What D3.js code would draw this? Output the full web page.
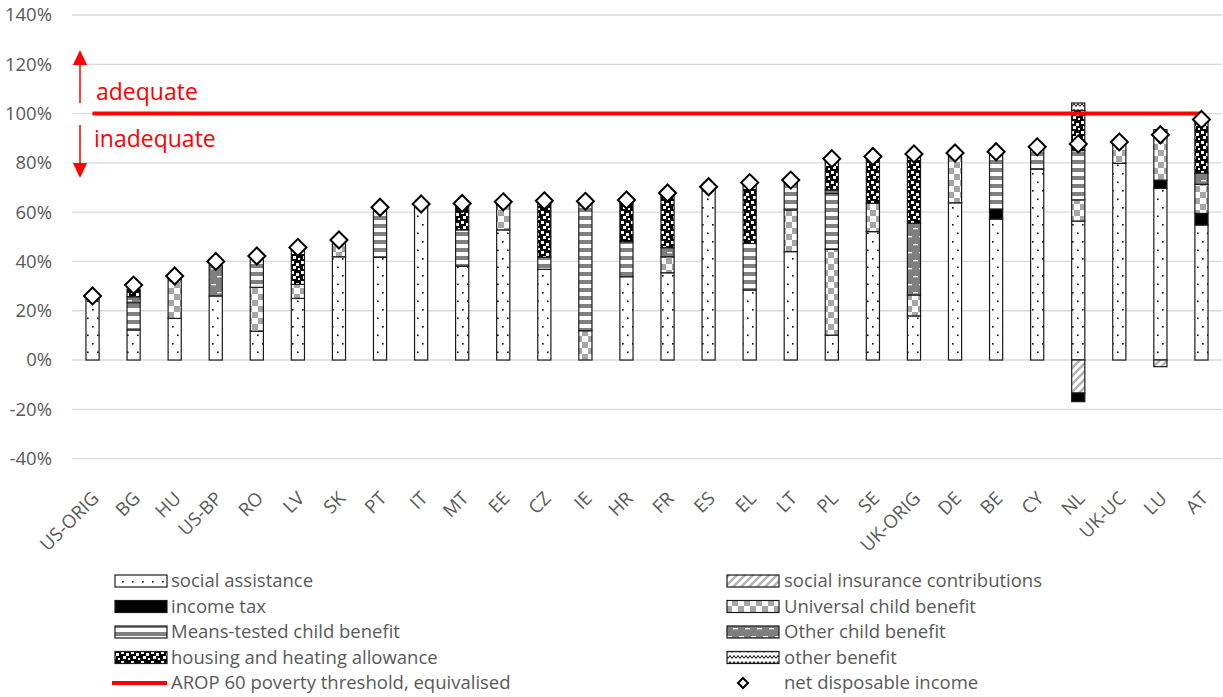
<!DOCTYPE html>
<html><head><meta charset="utf-8">
<script src="https://cdn.jsdelivr.net/npm/d3@7"></script>
<style>body{margin:0;background:#fff} text{font-family:"Open Sans",Lato,sans-serif}</style>
</head><body><svg id="c" width="1223" height="697"></svg>
<script>
const categories = ["US-ORIG","BG","HU","US-BP","RO","LV","SK","PT","IT","MT","EE","CZ","IE","HR","FR","ES","EL","LT","PL","SE","UK-ORIG","DE","BE","CY","NL","UK-UC","LU","AT"];
const socialAssistance = [25.5,12.2,16.9,26,11.7,25,41.9,41.7,62.3,38.1,52.8,36.8,0,33.8,35.4,69.5,28.4,44,10.1,52.1,17.9,63.8,57.2,77.5,56.4,79.8,69.7,54.8];
const socialInsurance  = [0,0,0,0,0,0,0,0,0,0,0,0,0,0,0,0,0,0,0,0,0,0,0,0,-13.4,0,-2.7,0];
const incomeTax        = [0,0,0,0,0,0,0,0,0,0,0,0,0,0,0,0,0,0,0,0,0,0,3.9,0,-3.5,0,3.3,4.7];
const universalChild   = [0,0,16,0,17.8,5.7,5.3,0,0,0,10.3,0,11.9,0,6.5,0,0,16.9,34.8,11.5,8.5,19.2,0,0,8.6,7.8,20.5,11.8];
const meansTestedChild = [0,11,0,0,11.5,0,0,19,0,14.7,0,4.9,51.6,14.2,0,0,18.9,11,22.7,0,0,0,22.3,8.2,20,0,0,0];
const otherChild       = [0,2.5,0,12.5,0,0,0,0,0,0,0,0,0,0,3.7,0,0,0,1.4,0,29.1,0,0,0,0,0,0,4.5];
const housingHeating   = [0,3,0,0,0,13.8,0,0,0,9.5,0,21.8,0,15.8,21,0,23.5,0,11.5,17.8,27,0,0,0,16.3,0,0,21.5];
const otherBenefit     = [0,0,0,0,0,0,0,0,0,0,0,0,0,0,0,0,0,0,0,0,0,0,0,0,3,0,0,0];
const netDisposable    = [26,30.4,34.1,40,42.2,45.7,48.7,62,63.3,63.5,64.2,64.6,64.4,64.9,67.8,70.3,72,73,81.7,82.6,83.6,84,84.5,86.5,87.7,88.5,91.4,97.6];
const povertyThreshold = 100;
const yTicks = [-40,-20,0,20,40,60,80,100,120,140];
const seriesNames = ["social assistance","social insurance contributions","income tax","Universal child benefit","Means-tested child benefit","Other child benefit","housing and heating allowance","other benefit"];

const seriesData = [socialAssistance, socialInsurance, incomeTax, universalChild, meansTestedChild, otherChild, housingHeating, otherBenefit];
const keys = ["sa","sic","tax","ucb","mtcb","ocb","hha","ob"];
const rows = categories.map((c,i)=>{const r={cat:c}; keys.forEach((k,j)=>r[k]=seriesData[j][i]); return r;});

const FONT = '"Open Sans",Lato,sans-serif';
const svg = d3.select("#c");
const defs = svg.append("defs");
function pat(id,w,h,draw){const p=defs.append("pattern").attr("id",id).attr("patternUnits","userSpaceOnUse").attr("width",w).attr("height",h); draw(p); return p;}
pat("p-sa",10,17,p=>{p.append("rect").attr("width",10).attr("height",17).attr("fill","#fff");
  p.append("rect").attr("x",2).attr("y",3).attr("width",1.6).attr("height",1.6).attr("fill","#000");
  p.append("rect").attr("x",7).attr("y",11.5).attr("width",1.6).attr("height",1.6).attr("fill","#000");});
pat("p-sic",8,8,p=>{p.append("rect").attr("width",8).attr("height",8).attr("fill","#fff");
  p.append("path").attr("d","M-2,10 L10,-2 M-2,2 L2,-2 M6,10 L10,6").attr("stroke","#b4b4b4").attr("stroke-width",2.6);});
pat("p-tax",4,4,p=>{p.append("rect").attr("width",4).attr("height",4).attr("fill","#000");});
pat("p-ucb",12,12,p=>{p.append("rect").attr("width",12).attr("height",12).attr("fill","#fff");
  p.append("rect").attr("width",6).attr("height",6).attr("fill","#a6a6a6");
  p.append("rect").attr("x",6).attr("y",6).attr("width",6).attr("height",6).attr("fill","#a6a6a6");});
pat("p-mtcb",8,8,p=>{p.append("rect").attr("width",8).attr("height",8).attr("fill","#fff");
  p.append("rect").attr("width",8).attr("height",4).attr("fill","#808080");});
pat("p-ocb",12,16,p=>{p.append("rect").attr("width",12).attr("height",16).attr("fill","#7f7f7f");
  p.append("rect").attr("x",1).attr("y",4).attr("width",5).attr("height",1.3).attr("fill","#fff");
  p.append("rect").attr("x",7).attr("y",12).attr("width",5).attr("height",1.3).attr("fill","#fff");});
pat("p-hha",10,10,p=>{p.append("rect").attr("width",10).attr("height",10).attr("fill","#000");
  [[1,1],[6,3],[3,6],[8,8]].forEach(([x,y])=>p.append("rect").attr("x",x).attr("y",y).attr("width",3).attr("height",3).attr("fill","#fff"));});
pat("p-ob",8,6,p=>{p.append("rect").attr("width",8).attr("height",6).attr("fill","#fff");
  p.append("path").attr("d","M0,4.5 L2,1.5 L4,4.5 L6,1.5 L8,4.5").attr("fill","none").attr("stroke","#000").attr("stroke-width",1);});

const plotL = 72, plotR = 1222;
const x = d3.scaleBand().domain(categories).range([plotL, plotR]).paddingInner(0.68).paddingOuter(0.34);
const y = d3.scaleLinear().domain([-40,140]).range([458.6,15]);

// gridlines
svg.append("g").selectAll("line").data(yTicks).join("line")
  .attr("x1",plotL).attr("x2",plotR).attr("y1",d=>y(d)).attr("y2",d=>y(d))
  .attr("stroke","#d9d9d9").attr("stroke-width",1.3);
// y labels
const yAxis = d3.axisLeft(y).tickValues(yTicks).tickFormat(d=>d+"%").tickSize(0).tickPadding(0);
const ya = svg.append("g").attr("transform","translate(52,0)").call(yAxis);
ya.select(".domain").remove();
ya.selectAll("text").attr("fill","#595959").style("font-size","18.5px").style("font-family",FONT);

// x labels
const xAxis = d3.axisBottom(x).tickSize(0);
const xa = svg.append("g").attr("transform","translate(0,490)").call(xAxis);
xa.select(".domain").remove();
xa.selectAll("text").attr("fill","#595959").style("font-size","18.5px").style("font-family",FONT)
  .attr("text-anchor","end").attr("dy","0.35em").attr("y",0)
  .attr("transform","translate(3,5) rotate(-45)");

// stacked bars
const stack = d3.stack().keys(keys).offset(d3.stackOffsetDiverging)(rows);
const bw = x.bandwidth();
stack.forEach((s,si)=>{
  svg.append("g").selectAll("rect").data(s.filter(d=>d[1]!==d[0])).join("rect")
    .attr("x",d=>x(d.data.cat)).attr("width",bw)
    .attr("y",d=>y(Math.max(d[0],d[1]))).attr("height",d=>Math.abs(y(d[0])-y(d[1])))
    .attr("fill",`url(#p-${keys[si]})`).attr("stroke","#1a1a1a").attr("stroke-width",1.2);
});

// threshold line
svg.append("line").attr("x1",x(categories[0])+bw/2).attr("x2",x(categories[categories.length-1])+bw/2)
  .attr("y1",y(povertyThreshold)).attr("y2",y(povertyThreshold)).attr("stroke","#ff0000").attr("stroke-width",4);

// diamonds
const dia = r=>`M0,${-r}L${r},0L0,${r}L${-r},0Z`;
svg.append("g").selectAll("path").data(categories).join("path")
  .attr("d",dia(8.5)).attr("transform",(c,i)=>`translate(${x(c)+bw/2},${y(netDisposable[i])})`)
  .attr("fill","#fff").attr("stroke","#000").attr("stroke-width",2);

// annotations
svg.append("line").attr("x1",80).attr("x2",80).attr("y1",103).attr("y2",64).attr("stroke","#ff0000").attr("stroke-width",1.5);
svg.append("path").attr("d","M80,50 L87,65 L73,65Z").attr("fill","#ff0000");
svg.append("line").attr("x1",80).attr("x2",80).attr("y1",125).attr("y2",164).attr("stroke","#ff0000").attr("stroke-width",1.5);
svg.append("path").attr("d","M80,178 L87,163 L73,163Z").attr("fill","#ff0000");
svg.append("text").attr("x",96).attr("y",100).attr("fill","#ff0000").style("font-size","23px").text("adequate");
svg.append("text").attr("x",94).attr("y",147).attr("fill","#ff0000").style("font-size","23px").text("inadequate");

// legend
const legRows = [581,606.5,632,657.5,683];
const legItems = [
  {col:0,row:0,key:"sa"},{col:1,row:0,key:"sic"},
  {col:0,row:1,key:"tax"},{col:1,row:1,key:"ucb"},
  {col:0,row:2,key:"mtcb"},{col:1,row:2,key:"ocb"},
  {col:0,row:3,key:"hha"},{col:1,row:3,key:"ob"}];
const colX = [115,727], colT=[171,784];
const LFS = "18.5px";
const lg = svg.append("g");
legItems.forEach(it=>{
  const si = keys.indexOf(it.key);
  lg.append("rect").attr("x",colX[it.col]).attr("y",legRows[it.row]-6).attr("width",52).attr("height",12)
    .attr("fill",`url(#p-${it.key})`).attr("stroke","#1a1a1a").attr("stroke-width",1.2);
  lg.append("text").attr("x",colT[it.col]).attr("y",legRows[it.row]).attr("dy","0.35em")
    .attr("fill","#595959").style("font-size",LFS).text(seriesNames[si]);
});
lg.append("line").attr("x1",112).attr("x2",167).attr("y1",683).attr("y2",683).attr("stroke","#ff0000").attr("stroke-width",4);
lg.append("text").attr("x",171).attr("y",683).attr("dy","0.35em").attr("fill","#595959").style("font-size",LFS).text("AROP 60 poverty threshold, equivalised");
lg.append("path").attr("d",dia(5)).attr("transform","translate(743,683)").attr("fill","#fff").attr("stroke","#000").attr("stroke-width",2);
lg.append("text").attr("x",784).attr("y",683).attr("dy","0.35em").attr("fill","#595959").style("font-size",LFS).text("net disposable income");
</script></body></html>
